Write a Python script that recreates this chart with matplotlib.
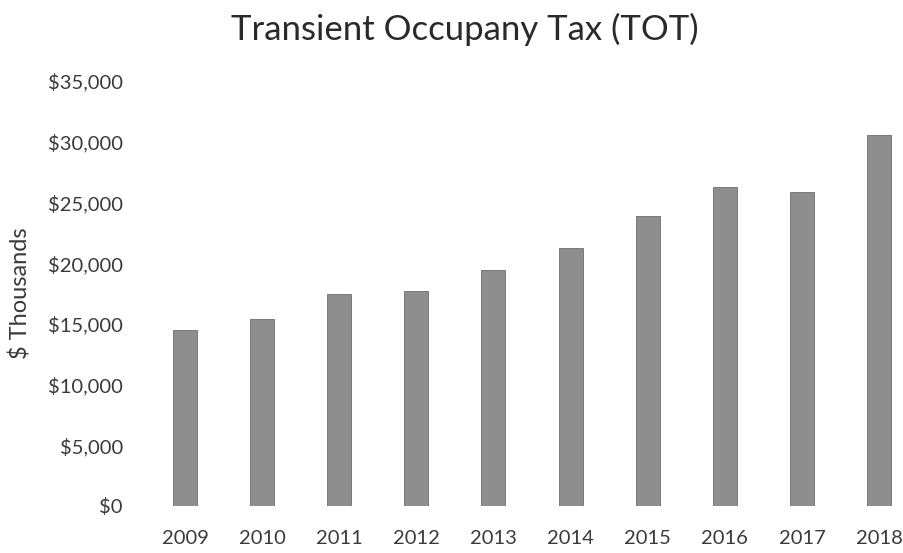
import matplotlib
matplotlib.use("Agg")
import matplotlib.pyplot as plt
from matplotlib.ticker import FuncFormatter

years = ["2009", "2010", "2011", "2012", "2013", "2014", "2015", "2016", "2017", "2018"]
values = [14500, 15400, 17500, 17700, 19400, 21250, 23900, 26300, 25900, 30550]
yticks = [0, 5000, 10000, 15000, 20000, 25000, 30000, 35000]

plt.rcParams['font.family'] = ['Lato', 'DejaVu Sans']

fig = plt.figure(figsize=(9.04, 5.53), dpi=100)
ax = fig.add_axes([0.162, 0.085, 0.853, 0.7685])

x = list(range(len(years)))
ax.bar(x, values, width=0.31, color="#8e8e8e", edgecolor="#6e6e6e", linewidth=0.6)

ax.set_xlim(-0.5, len(years) - 0.5)
ax.set_ylim(0, 35000)
ax.set_yticks(yticks)
ax.yaxis.set_major_formatter(FuncFormatter(lambda v, p: "${:,.0f}".format(v)))
ax.set_xticks(x)
ax.set_xticklabels(years)

for s in ax.spines.values():
    s.set_visible(False)
ax.tick_params(axis='both', length=0, labelsize=14.5, colors="#3a3a3a")
ax.tick_params(axis='y', pad=17)
ax.tick_params(axis='x', pad=17)

ax.set_ylabel("$ Thousands", fontsize=17, color="#3a3a3a", labelpad=12)
fig.text(0.514, 0.947, "Transient Occupany Tax (TOT)", ha="center", va="center",
         fontsize=25, color="#2a2a2a")

fig.savefig("out.png", dpi=100)
